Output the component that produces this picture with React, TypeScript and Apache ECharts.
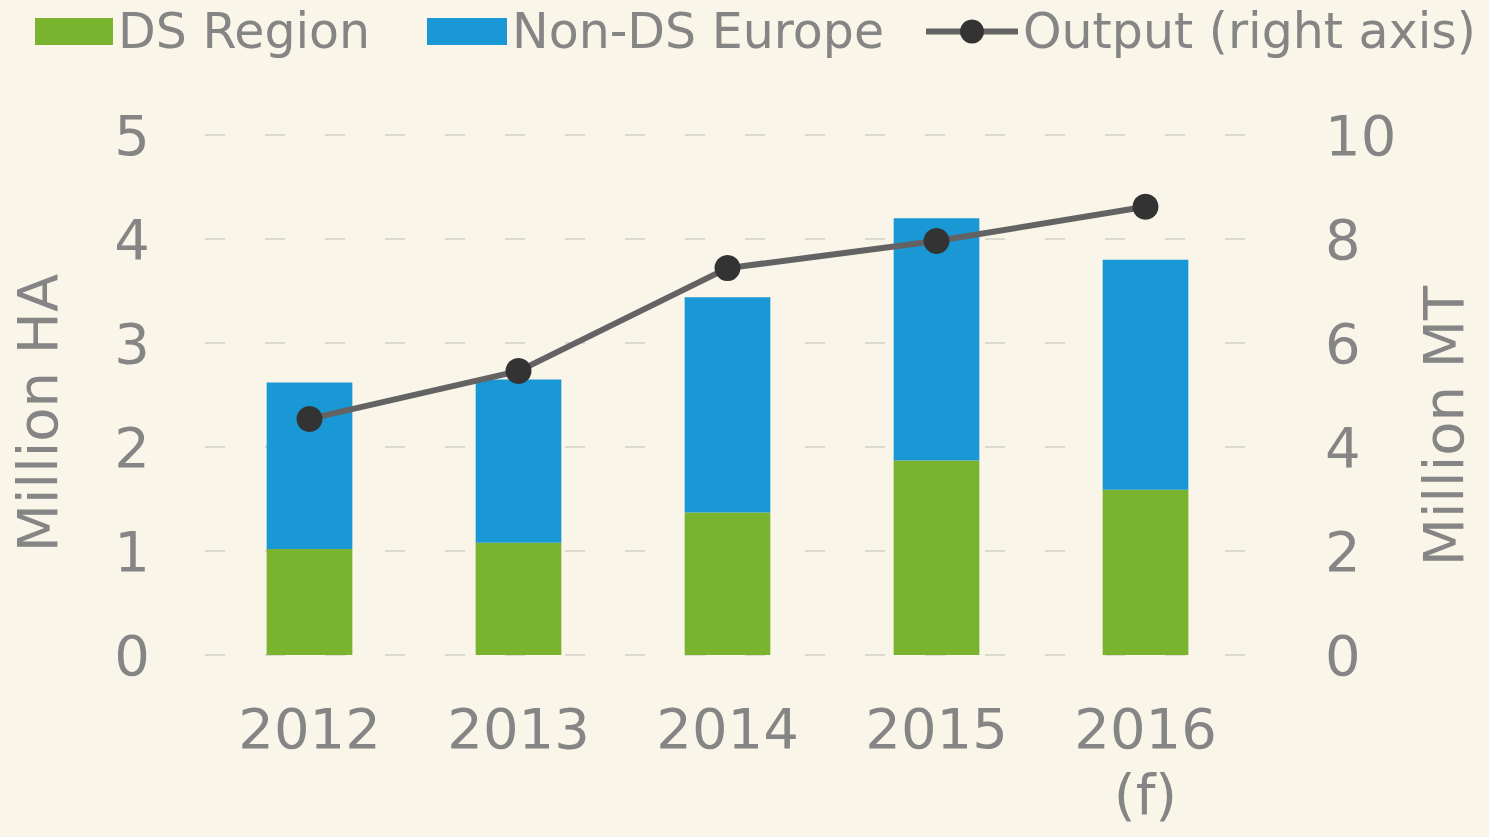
import React, { useEffect, useRef } from "react";
import * as echarts from "echarts";

const categories = ["2012", "2013", "2014", "2015", "2016\n(f)"];
const dsRegion = [1.02, 1.08, 1.37, 1.87, 1.59];
const nonDsEurope = [1.6, 1.57, 2.07, 2.33, 2.21];
const output = [4.54, 5.46, 7.44, 7.96, 8.62];

const FONT = "DejaVu Sans";
const TXT = "#858585";

export default function App() {
  const ref = useRef<HTMLDivElement>(null);
  useEffect(() => {
    document.body.style.margin = "0";
    const chart = echarts.init(ref.current!, null, { renderer: "svg" });
    chart.setOption({
      animation: false,
      backgroundColor: "#FAF5E9",
      textStyle: { fontFamily: FONT },
      legend: [
        {
          data: [{ name: "DS Region", icon: "rect" }],
          left: 30,
          top: 2,
          itemWidth: 78,
          itemHeight: 27,
          textStyle: { fontSize: 49, color: TXT, fontFamily: FONT },
        },
        {
          data: [{ name: "Non-DS Europe", icon: "rect" }],
          left: 422,
          top: 2,
          itemWidth: 80,
          itemHeight: 27,
          textStyle: { fontSize: 49, color: TXT, fontFamily: FONT },
        },
        {
          data: [{ name: "Output (right axis)" }],
          left: 918,
          top: 2,
          itemWidth: 92,
          itemHeight: 30,
          lineStyle: { width: 6, color: "#636363" },
          textStyle: { fontSize: 49, color: TXT, fontFamily: FONT },
        },
      ],
      grid: { left: 205, right: 239, top: 135, bottom: 182 },
      xAxis: {
        type: "category",
        data: categories,
        axisLine: { show: false },
        axisTick: { show: false },
        axisLabel: {
          fontSize: 56,
          color: TXT,
          fontFamily: FONT,
          margin: 40,
          lineHeight: 66,
          interval: 0,
        },
      },
      yAxis: [
        {
          type: "value",
          min: 0,
          max: 5,
          interval: 1,
          name: "Million HA",
          nameLocation: "middle",
          nameGap: 140,
          nameTextStyle: { fontSize: 56, color: TXT, fontFamily: FONT, padding: [0, 36, 0, 0] },
          axisLabel: { fontSize: 56, color: TXT, fontFamily: FONT, margin: 55 },
          axisLine: { show: false },
          axisTick: { show: false },
          splitLine: { lineStyle: { color: "#dcd9d0", width: 2, type: [20, 40] } },
        },
        {
          type: "value",
          min: 0,
          max: 10,
          interval: 2,
          name: "Million MT",
          nameLocation: "middle",
          nameGap: 165,
          nameTextStyle: { fontSize: 56, color: TXT, fontFamily: FONT, padding: [0, 62, 0, 0] },
          axisLabel: { fontSize: 56, color: TXT, fontFamily: FONT, margin: 75 },
          axisLine: { show: false },
          axisTick: { show: false },
          splitLine: { show: false },
        },
      ],
      series: [
        {
          name: "DS Region",
          type: "bar",
          stack: "ha",
          data: dsRegion,
          barWidth: "41%",
          itemStyle: { color: "#7AB32E" },
        },
        {
          name: "Non-DS Europe",
          type: "bar",
          stack: "ha",
          data: nonDsEurope,
          barWidth: "41%",
          itemStyle: { color: "#1A98D5" },
        },
        {
          name: "Output (right axis)",
          type: "line",
          yAxisIndex: 1,
          data: output,
          symbol: "circle",
          symbolSize: 26,
          lineStyle: { color: "#636363", width: 6 },
          itemStyle: { color: "#333333" },
        },
      ],
    });
    return () => chart.dispose();
  }, []);
  return (
    <div
      ref={ref}
      style={{ position: "fixed", left: 0, top: 0, width: 1489, height: 837 }}
    />
  );
}
